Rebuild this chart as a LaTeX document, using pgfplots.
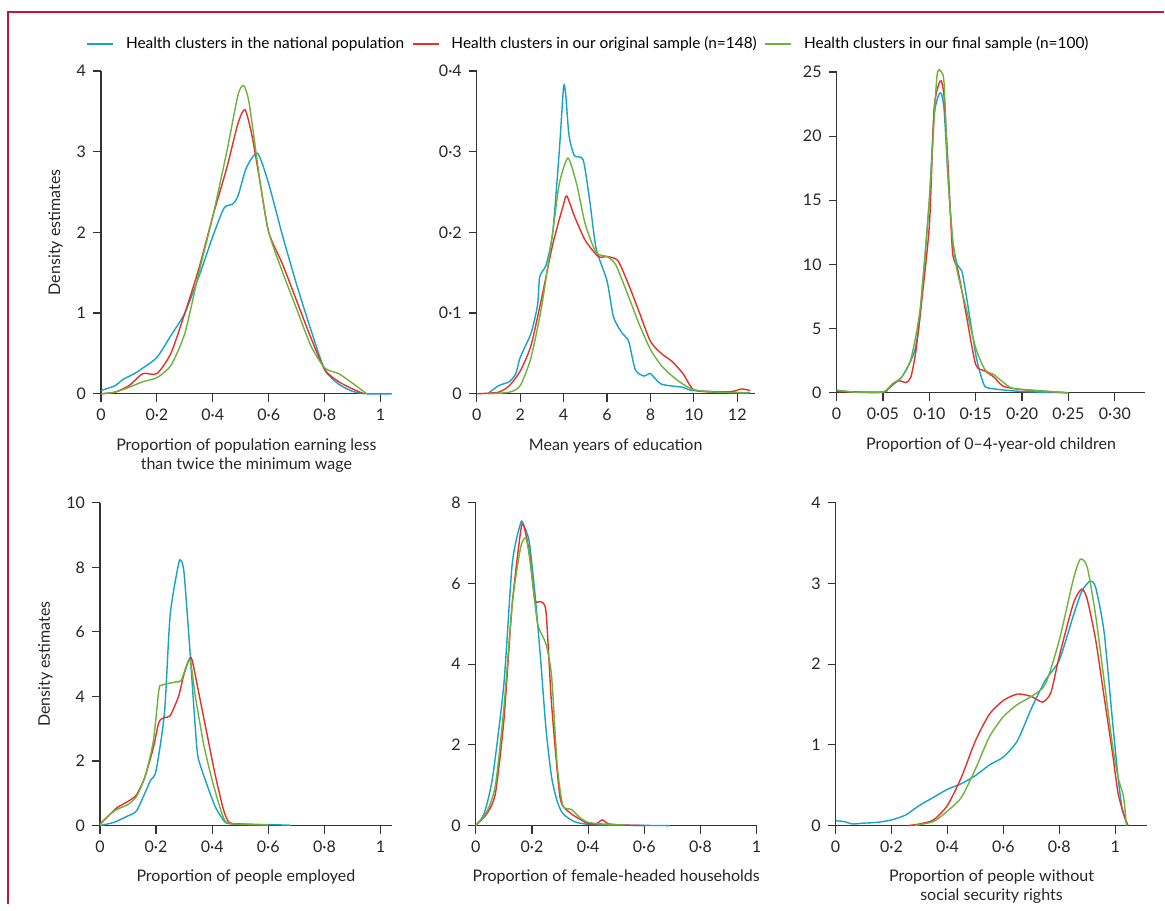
\documentclass[border=0pt]{standalone}
\usepackage{fontspec}
\setmainfont{Lato}
\usepackage{pgfplots}
\pgfplotsset{compat=1.18}
\definecolor{cblue}{HTML}{16A2C8}
\definecolor{cred}{HTML}{E8302A}
\definecolor{cgreen}{HTML}{6BB33B}
\definecolor{frame}{HTML}{C8143C}
\pgfplotsset{
  panel/.style={scale only axis, anchor=south west, axis lines=left,
    axis line style={-, line width=0.7pt, black!80},
    tick style={black!80, line width=0.6pt}, tick align=outside, major tick length=4pt,
    xmin=0, ymin=0, clip=false,
    font=\fontsize{7.5}{9}\selectfont, tick label style={font=\fontsize{8}{9}\selectfont, black!85},
    label style={font=\fontsize{8}{9.5}\selectfont, black!85},
    xlabel style={align=center, yshift=-2pt},
    every axis plot/.append style={smooth, line width=0.7pt, tension=0.4},
  }
}
\begin{document}
\begin{tikzpicture}
\path (0,0) rectangle (582.5pt,452pt);
\draw[frame, line width=0.6pt] (4pt,0) -- (4pt,446pt) -- (582.5pt,446pt);
% P1
\begin{axis}[panel, at={(50.5pt,255pt)}, width=145.5pt, height=161.5pt, xmax=1.04, ymax=4,
  xtick={0,0.2,0.4,0.6,0.8,1}, xticklabels={0,0·2,0·4,0·6,0·8,1}, ytick={0,1,2,3,4}, yticklabels={0,1,2,3,4},
  ylabel={Density estimates}, xlabel={Proportion of population earning less\\than twice the minimum wage}]
\addplot[cblue] coordinates {(0,0.04)(0.05,0.1)(0.08,0.18)(0.12,0.25)(0.15,0.32)(0.2,0.45)(0.25,0.72)(0.3,1.0)(0.35,1.45)(0.4,1.95)(0.44,2.3)(0.47,2.35)(0.49,2.45)(0.52,2.8)(0.56,2.98)(0.6,2.6)(0.65,1.95)(0.7,1.35)(0.75,0.8)(0.8,0.3)(0.85,0.12)(0.9,0.03)(0.95,0.0)(1.04,0)};
\addplot[cred] coordinates {(0,0)(0.05,0.02)(0.1,0.1)(0.15,0.25)(0.2,0.25)(0.25,0.5)(0.3,1.0)(0.35,1.55)(0.4,2.2)(0.45,2.8)(0.49,3.35)(0.515,3.52)(0.54,3.2)(0.57,2.6)(0.6,2.0)(0.65,1.6)(0.7,1.15)(0.75,0.7)(0.8,0.3)(0.85,0.15)(0.9,0.06)(0.94,0)};
\addplot[cgreen] coordinates {(0,0)(0.05,0.02)(0.1,0.08)(0.15,0.15)(0.2,0.2)(0.25,0.35)(0.3,0.75)(0.35,1.5)(0.4,2.2)(0.45,3.0)(0.49,3.7)(0.51,3.82)(0.53,3.6)(0.57,2.6)(0.6,2.0)(0.65,1.5)(0.7,1.05)(0.75,0.6)(0.8,0.32)(0.85,0.25)(0.9,0.13)(0.95,0)};
\end{axis}
% P2
\begin{axis}[panel, at={(238.5pt,255pt)}, width=139pt, height=161.5pt, xmax=12.8, ymax=0.4,
  xtick={0,2,4,6,8,10,12}, xticklabels={0,2,4,6,8,10,12}, ytick={0,0.1,0.2,0.3,0.4}, yticklabels={0,0·1,0·2,0·3,0·4},
  xlabel={Mean years of education},
  legend columns=3, legend style={at={(0.406,1.084)}, anchor=center, draw=none, fill=none, font=\fontsize{7.7}{9}\selectfont, column sep=4pt,
    /tikz/every even column/.append style={column sep=2pt}},
  legend image code/.code={\draw[#1, line width=0.7pt] (0pt,0pt) -- (13pt,0pt);},
  legend cell align=left]
\addplot[cblue] coordinates {(0.5,0)(1,0.01)(1.5,0.015)(1.8,0.025)(2,0.045)(2.5,0.075)(2.8,0.11)(2.9,0.145)(3.2,0.16)(3.5,0.2)(3.8,0.3)(4,0.38)(4.1,0.37)(4.25,0.32)(4.5,0.295)(4.9,0.29)(5.2,0.24)(5.5,0.18)(6,0.14)(6.3,0.095)(6.7,0.075)(7,0.065)(7.3,0.03)(7.7,0.022)(8,0.025)(8.5,0.012)(9.5,0.008)(10,0.004)(12.6,0.001)};
\addlegendentry{Health clusters in the national population}
\addplot[cred] coordinates {(0,0)(1,0.002)(1.5,0.01)(2,0.028)(2.5,0.06)(3,0.12)(3.5,0.185)(4,0.235)(4.15,0.245)(4.5,0.22)(5,0.19)(5.6,0.17)(6,0.17)(6.5,0.165)(7,0.135)(7.5,0.1)(8,0.065)(8.5,0.05)(9,0.04)(9.5,0.025)(10,0.005)(11,0.002)(11.8,0.003)(12.2,0.006)(12.6,0.004)};
\addlegendentry{Health clusters in our original sample (n=148)}
\addplot[cgreen] coordinates {(0.5,0)(1.5,0.002)(2,0.01)(2.5,0.045)(3,0.11)(3.5,0.2)(3.8,0.26)(4.2,0.292)(4.6,0.26)(5,0.21)(5.5,0.175)(6,0.17)(6.4,0.16)(7,0.12)(7.5,0.085)(8,0.055)(8.5,0.035)(9,0.022)(9.5,0.012)(10,0.005)(11,0.002)(12.5,0.001)};
\addlegendentry{Health clusters in our final sample (n=100)}
\end{axis}
% P3
\begin{axis}[panel, at={(418.5pt,255.5pt)}, width=154.5pt, height=160.5pt, xmax=0.333, ymax=25,
  xtick={0,0.05,0.1,0.15,0.2,0.25,0.3}, xticklabels={0,0·05,0·10,0·15,0·20,0·25,0·30}, ytick={0,5,10,15,20,25}, yticklabels={0,5,10,15,20,25},
  xlabel={Proportion of 0–4-year-old children}]
\addplot[cblue] coordinates {(0,0.2)(0.02,0.05)(0.05,0.05)(0.06,0.6)(0.07,1.2)(0.08,2.5)(0.085,3.5)(0.09,6)(0.1,15)(0.105,21.5)(0.11,23.2)(0.113,23.3)(0.116,22)(0.12,17)(0.125,12)(0.13,10)(0.135,9.5)(0.14,7.5)(0.15,3)(0.155,1.5)(0.16,0.5)(0.17,0.3)(0.2,0.1)(0.25,0)};
\addplot[cred] coordinates {(0,0.1)(0.05,0.05)(0.055,0.3)(0.065,0.9)(0.07,0.9)(0.075,0.8)(0.08,1.2)(0.085,3)(0.09,6)(0.1,13)(0.105,22)(0.11,24)(0.113,24.3)(0.116,23)(0.12,18)(0.125,11)(0.13,9.8)(0.135,8)(0.14,6)(0.15,2.2)(0.16,1.7)(0.17,1.2)(0.18,0.5)(0.2,0.25)(0.25,0)};
\addplot[cgreen] coordinates {(0,0.2)(0.02,0.05)(0.05,0.05)(0.06,0.7)(0.07,1.2)(0.08,2.6)(0.09,6.5)(0.1,15)(0.108,24.5)(0.113,25)(0.116,24)(0.12,17)(0.125,12)(0.13,9.5)(0.14,6.5)(0.15,3.5)(0.16,1.8)(0.17,1.4)(0.18,0.8)(0.19,0.35)(0.22,0.15)(0.25,0)};
\end{axis}
% P4
\begin{axis}[panel, at={(50pt,39pt)}, width=146pt, height=161.5pt, xmax=1.04, ymax=10,
  xtick={0,0.2,0.4,0.6,0.8,1}, xticklabels={0,0·2,0·4,0·6,0·8,1}, ytick={0,2,4,6,8,10}, yticklabels={0,2,4,6,8,10},
  ylabel={Density estimates}, xlabel={Proportion of people employed}]
\addplot[cblue] coordinates {(0,0)(0.05,0.1)(0.1,0.3)(0.13,0.45)(0.16,1.0)(0.18,1.4)(0.2,1.7)(0.23,3.5)(0.25,6.5)(0.28,8.1)(0.29,8.2)(0.3,7.8)(0.32,5.5)(0.34,3)(0.35,2.1)(0.38,1.3)(0.41,0.6)(0.43,0.3)(0.45,0.08)(0.5,0.04)(0.6,0.03)(0.68,0.01)};
\addplot[cred] coordinates {(0,0.05)(0.03,0.3)(0.06,0.55)(0.1,0.75)(0.13,0.95)(0.16,1.5)(0.19,2.4)(0.21,3.2)(0.23,3.35)(0.25,3.4)(0.28,4.0)(0.3,4.7)(0.325,5.2)(0.35,4.2)(0.38,2.9)(0.41,1.6)(0.44,0.5)(0.46,0.1)(0.5,0.05)(0.6,0.02)};
\addplot[cgreen] coordinates {(0,0.02)(0.03,0.3)(0.06,0.5)(0.1,0.65)(0.13,0.9)(0.16,1.5)(0.19,2.6)(0.21,4.2)(0.22,4.35)(0.27,4.45)(0.29,4.5)(0.32,5.15)(0.34,4.0)(0.37,2.5)(0.4,1.4)(0.43,0.5)(0.45,0.1)(0.5,0.04)(0.6,0.02)};
\end{axis}
% P5
\begin{axis}[panel, at={(238pt,39pt)}, width=140.5pt, height=161.5pt, xmax=1.0, ymax=8,
  xtick={0,0.2,0.4,0.6,0.8,1}, xticklabels={0,0·2,0·4,0·6,0·8,1}, ytick={0,2,4,6,8}, yticklabels={0,2,4,6,8},
  xlabel={Proportion of female-headed households}]
\addplot[cblue] coordinates {(0,0)(0.03,0.3)(0.06,1.2)(0.1,3.5)(0.13,6.5)(0.16,7.5)(0.17,7.45)(0.19,7.05)(0.21,5.8)(0.23,4.2)(0.25,2.4)(0.27,1.2)(0.29,0.6)(0.31,0.3)(0.35,0.1)(0.4,0.03)(0.5,0.01)(0.69,0)};
\addplot[cred] coordinates {(0,0)(0.04,0.3)(0.07,0.8)(0.1,2.6)(0.13,5.5)(0.16,7.3)(0.17,7.45)(0.19,6.8)(0.21,5.6)(0.23,5.55)(0.25,5.3)(0.27,3.0)(0.3,0.7)(0.33,0.35)(0.36,0.2)(0.4,0.05)(0.43,0.05)(0.45,0.14)(0.47,0.05)(0.5,0.02)(0.6,0)};
\addplot[cgreen] coordinates {(0,0)(0.04,0.35)(0.07,1)(0.1,2.9)(0.13,5.5)(0.16,6.9)(0.18,7.1)(0.2,6.2)(0.22,5.0)(0.25,4.5)(0.27,3.7)(0.29,1.5)(0.31,0.5)(0.34,0.4)(0.37,0.2)(0.4,0.08)(0.45,0.04)(0.53,0.02)};
\end{axis}
% P6
\begin{axis}[panel, at={(418pt,39pt)}, width=156pt, height=161.5pt, xmax=1.115, ymax=4,
  xtick={0,0.2,0.4,0.6,0.8,1}, xticklabels={0,0·2,0·4,0·6,0·8,1}, ytick={0,1,2,3,4}, yticklabels={0,1,2,3,4},
  xlabel={Proportion of people without\\social security rights}]
\addplot[cblue] coordinates {(0,0.06)(0.03,0.05)(0.06,0.02)(0.1,0.03)(0.15,0.04)(0.2,0.07)(0.25,0.13)(0.3,0.25)(0.35,0.35)(0.4,0.45)(0.45,0.52)(0.5,0.62)(0.55,0.75)(0.6,0.85)(0.65,1.05)(0.7,1.45)(0.75,1.8)(0.8,2.05)(0.85,2.6)(0.88,2.9)(0.91,3.03)(0.93,2.95)(0.96,2.4)(0.99,1.3)(1.01,0.6)(1.025,0.2)(1.045,0)};
\addplot[cred] coordinates {(0.26,0)(0.3,0.02)(0.35,0.07)(0.4,0.25)(0.45,0.6)(0.5,1.05)(0.55,1.38)(0.6,1.55)(0.65,1.63)(0.7,1.6)(0.74,1.53)(0.77,1.65)(0.8,2.1)(0.85,2.75)(0.88,2.93)(0.9,2.8)(0.93,2.3)(0.96,1.6)(0.99,0.9)(1.01,0.4)(1.03,0.15)(1.045,0)};
\addplot[cgreen] coordinates {(0.28,0)(0.35,0.05)(0.4,0.18)(0.45,0.35)(0.5,0.7)(0.55,1.1)(0.6,1.35)(0.65,1.5)(0.7,1.6)(0.75,1.75)(0.8,2.3)(0.85,3.05)(0.875,3.3)(0.9,3.2)(0.93,2.6)(0.96,1.8)(0.99,1.0)(1.01,0.6)(1.03,0.35)(1.04,0)};
\end{axis}
\end{tikzpicture}
\end{document}
